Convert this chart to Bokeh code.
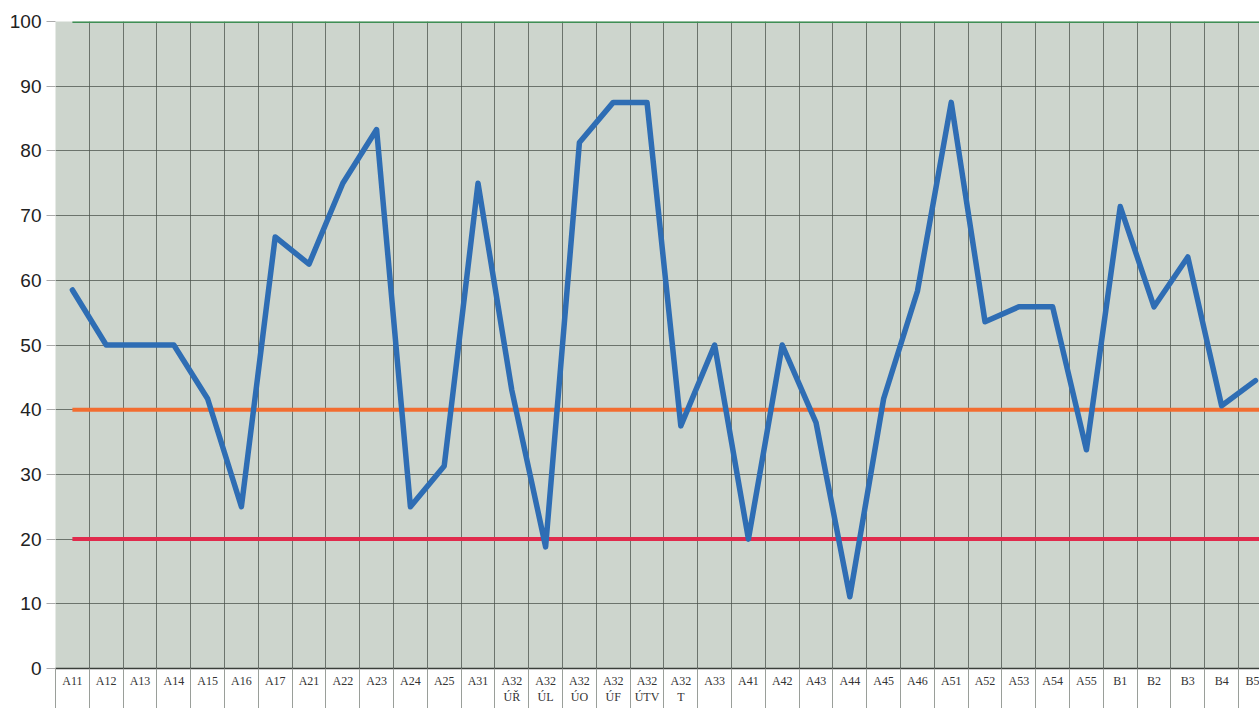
from bokeh.plotting import figure
from bokeh.models import FixedTicker, Range1d
from bokeh.embed import file_html
from bokeh.resources import INLINE

categories = ["A11", "A12", "A13", "A14", "A15", "A16", "A17", "A21", "A22", "A23",
              "A24", "A25", "A31", "A32\nÚŘ", "A32\nÚL", "A32\nÚO", "A32\nÚF", "A32\nÚTV",
              "A32\nT", "A33", "A41", "A42", "A43", "A44", "A45", "A46", "A51", "A52",
              "A53", "A54", "A55", "B1", "B2", "B3", "B4", "B5"]
values = [58.5, 50, 50, 50, 41.7, 25, 66.7, 62.5, 75, 83.3,
          25, 31.3, 75, 43, 18.8, 81.3, 87.5, 87.5,
          37.5, 50, 20, 50, 38, 11.1, 41.7, 58.3, 87.5, 53.6,
          55.9, 55.9, 33.8, 71.4, 55.9, 63.6, 40.6, 44.5]
threshold_values = [100, 40, 20]
threshold_colors = ["#3f8f55", "#f26d30", "#e02a4c"]
y_ticks = [0, 10, 20, 30, 40, 50, 60, 70, 80, 90, 100]

n = len(categories)
centers = [i + 0.5 for i in range(n)]
bounds = [float(i) for i in range(n + 1)]

p = figure(width=1259, height=708, output_backend="svg", toolbar_location=None,
           x_range=Range1d(0, 35.62), y_range=Range1d(0, 100),
           min_border_left=55, min_border_right=0, min_border_top=21, min_border_bottom=40)
p.background_fill_color = "#cdd5cd"
p.border_fill_color = "white"
p.outline_line_color = None

# grid
p.xgrid.ticker = FixedTicker(ticks=bounds)
p.xgrid.grid_line_color = "#4a514b"
p.xgrid.grid_line_alpha = 0.75
p.xgrid.grid_line_width = 1
p.ygrid.ticker = FixedTicker(ticks=y_ticks)
p.ygrid.grid_line_color = "#4a514b"
p.ygrid.grid_line_alpha = 0.75
p.ygrid.grid_line_width = 1

# x axis
xa = p.xaxis[0]
xa.ticker = FixedTicker(ticks=centers, minor_ticks=bounds)
xa.major_label_overrides = {c: lab for c, lab in zip(centers, categories)}
xa.major_tick_out = 0
xa.major_tick_in = 0
xa.minor_tick_out = 40
xa.minor_tick_in = 0
xa.minor_tick_line_color = "#9a9f9a"
xa.axis_line_color = "#3a3f3a"
xa.axis_line_width = 1.5
xa.major_label_text_font = "Liberation Serif"
xa.major_label_text_font_size = "12px"
xa.major_label_text_color = "#333333"
xa.major_label_standoff = -35
xa.major_label_text_line_height = 1.2

# y axis
ya = p.yaxis[0]
ya.ticker = FixedTicker(ticks=y_ticks)
ya.axis_line_color = None
ya.major_tick_out = 9
ya.major_tick_in = 0
ya.major_tick_line_color = "#aaaaaa"
ya.minor_tick_line_color = None
ya.major_label_text_font = "Liberation Sans"
ya.major_label_text_font_size = "19px"
ya.major_label_text_color = "#222222"
ya.major_label_standoff = 5

# threshold lines
for v, c in zip(threshold_values, threshold_colors):
    p.line([0.5, 36], [v, v], line_color=c, line_width=4 if v != 100 else 3)

# data line
p.line(centers, values, line_color="#2e6db4", line_width=5.5, line_join="round", line_cap="round")

open("out.html", "w").write(file_html(p, INLINE))
